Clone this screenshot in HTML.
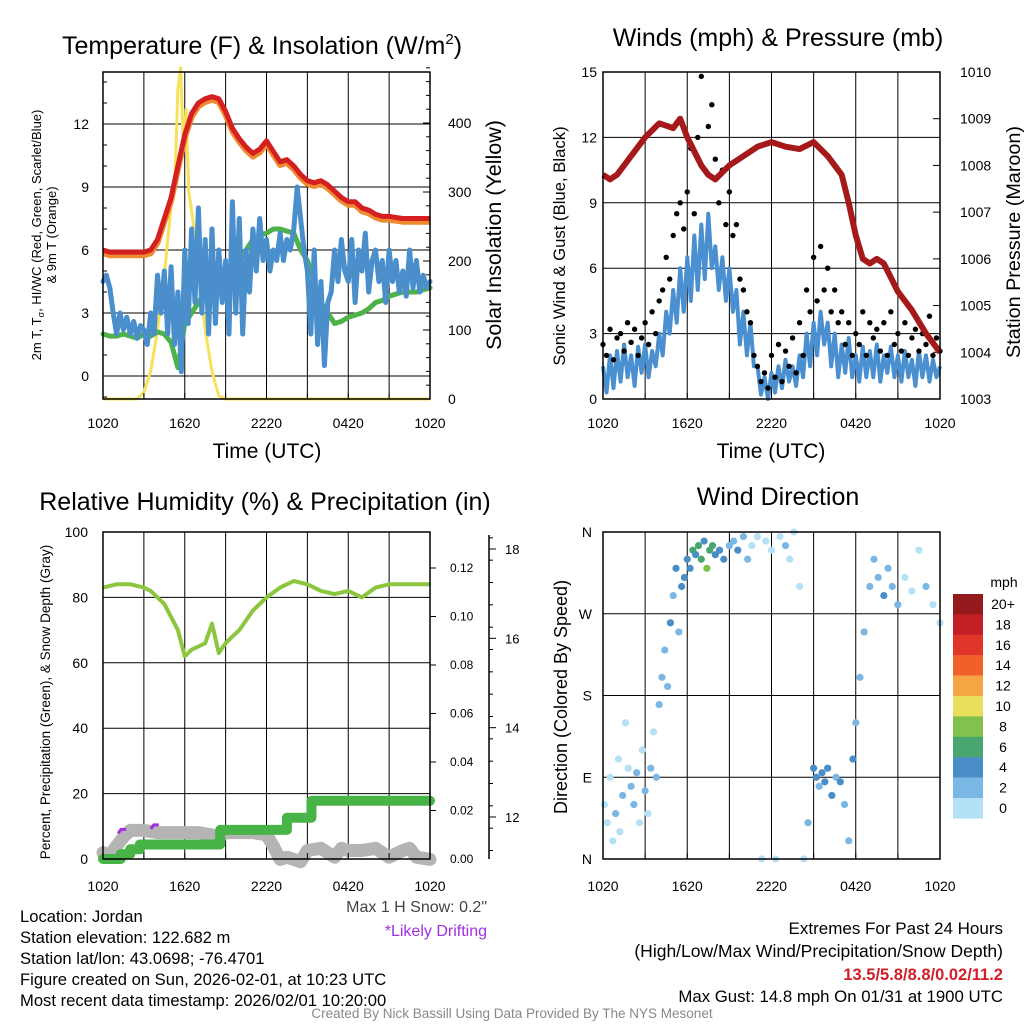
<!DOCTYPE html>
<html><head><meta charset="utf-8"><style>
body{margin:0;background:#fff;}
svg{display:block;font-family:"Liberation Sans",Arial,sans-serif;}
</style></head><body>
<svg id="chart" width="1024" height="1024" viewBox="0 0 1024 1024"></svg>
<script>
// ---------- DATA ----------
// Panel 1 (every 0.5 h)
const tempRed=[6.0,5.9,5.9,5.9,5.9,5.9,5.9,6.0,6.5,7.5,8.5,10.0,11.5,12.5,13.0,13.2,13.3,13.2,12.6,11.8,11.3,10.9,10.6,10.8,11.2,10.7,10.2,10.3,10.0,9.6,9.3,9.2,9.3,9.1,8.8,8.5,8.3,8.3,8.0,7.9,7.7,7.6,7.6,7.55,7.5,7.5,7.5,7.5,7.5];
const dewGreen=[2.0,1.9,1.9,2.0,1.9,1.8,2.0,1.9,2.1,2.0,1.6,0.4,2.5,3.0,3.5,4.0,4.5,4.8,5.0,5.2,5.5,6.0,6.5,6.7,6.8,7.0,7.0,6.9,6.8,6.0,5.5,4.5,3.5,3.0,2.5,2.6,2.8,2.9,3.0,3.2,3.5,3.6,3.8,3.9,4.0,4.0,4.0,4.1,4.2];
const windChill=[4.5,4.8,4.2,3.0,2.0,3.0,2.2,2.8,2.0,2.6,1.8,2.4,2.2,1.5,3.0,2.0,4.8,3.0,5.0,2.0,5.2,1.5,4.0,0.2,6.0,2.5,7.0,3.5,8.0,3.0,6.5,2.0,7.0,2.5,6.0,3.5,5.5,2.0,8.3,3.0,7.5,2.0,6.0,4.0,7.0,5.0,7.5,5.5,6.5,5.0,6.0,5.5,6.8,5.5,6.5,6.0,7.0,9.0,7.5,6.0,5.0,2.0,6.0,1.5,4.5,0.5,3.5,4.0,6.0,4.5,6.5,5.0,4.5,6.5,3.5,6.0,5.0,6.8,4.0,5.5,6.0,4.5,5.5,3.5,6.0,4.5,5.5,4.0,5.0,3.8,6.0,4.2,5.5,4.0,4.8,4.2,4.5];
const insolTimes=[0,2.5,3.0,3.5,4.0,4.5,5.0,5.3,5.5,5.7,5.9,6.1,6.3,6.6,7.0,7.5,8.0,8.5,9.0,24];
const insolVals=[0,0,10,40,100,180,280,330,450,480,360,420,300,260,180,100,40,5,0,0];
// Panel 2 (every 0.25 h)
const sonicWind=[1.5,0.3,2.0,0.5,2.2,0.8,2.5,1.0,2.0,0.6,2.4,1.2,2.5,1.0,2.2,1.5,3.0,2.0,4.0,3.0,5.0,3.5,6.0,4.0,6.5,4.5,7.5,5.0,8.0,5.5,8.5,6.0,7.0,5.0,6.5,4.5,6.0,4.0,5.0,2.5,4.0,2.0,3.5,1.5,1.5,0.2,1.0,0.0,1.2,0.3,1.5,0.5,1.8,0.8,1.5,0.6,2.0,1.0,3.0,1.5,3.5,2.0,4.0,2.5,3.5,1.5,3.0,1.0,2.5,1.2,2.8,1.0,2.0,0.8,2.4,1.0,2.2,1.0,2.5,0.8,2.0,1.2,2.4,1.0,2.0,0.8,2.2,1.0,1.8,0.6,2.2,1.0,2.0,0.8,1.8,1.0,1.5];
const gusts=[2.5,2.0,3.2,1.8,2.8,3.0,2.2,3.5,2.6,3.2,2.0,2.8,3.5,2.5,4.0,3.0,4.5,5.0,6.5,5.5,7.5,8.5,9.0,7.8,9.5,11.5,8.5,12.0,14.8,10.5,12.5,13.5,11.0,9.0,10.5,8.0,9.5,7.5,8.0,5.5,5.0,4.0,3.5,2.0,1.5,0.8,1.2,0.5,2.0,1.0,2.5,0.8,2.2,1.5,2.8,1.2,3.5,2.0,5.0,4.0,6.5,4.5,7.0,5.0,6.0,4.0,5.0,3.5,4.0,2.5,3.5,2.0,3.0,2.5,4.0,2.0,3.5,2.8,3.2,2.2,3.5,2.0,4.0,2.5,3.0,2.2,3.5,2.0,2.8,3.2,2.2,3.0,2.5,3.8,2.0,2.8,2.2];
const pressTimes=[0,0.5,1,2,3,4,4.5,5,5.5,6,6.5,7,7.5,8,9,10,11,12,13,14,15,16,17,17.5,18,18.5,19,19.5,20,21,22,23,24];
const pressVals=[1007.8,1007.7,1007.8,1008.2,1008.6,1008.9,1008.85,1008.8,1009.0,1008.6,1008.3,1008.0,1007.8,1007.7,1008.0,1008.2,1008.4,1008.5,1008.4,1008.35,1008.5,1008.2,1007.8,1007.2,1006.5,1006.0,1005.9,1006.0,1005.9,1005.3,1004.9,1004.4,1004.0];
// Panel 3
const rhTimes=[0,1,2,3,3.5,4.5,5.5,6,6.5,7,7.5,8,8.5,9,9.5,10,11,12,13,14,15,16,17,18,19,20,21,22,23,24];
const rhVals=[83,84,84,83,82,78,70,62,64,65,66,72,63,66,68,70,76,80,83,85,84,82,81,82,80,83,84,84,84,84];
const precipTimes=[0,1.3,2.0,2.7,8.6,13.5,15.3,24];
const precipVals=[0,0.002,0.004,0.006,0.012,0.017,0.024,0.024];
const snowTimes=[0,0.5,1,1.5,2,3,4,5,6,7,8,8.5,9,10,11,12,12.5,13,13.5,14.5,15,16,17,17.5,18,19,20,21,22,22.5,23,24];
const snowVals=[11.2,11.15,11.35,11.55,11.7,11.7,11.65,11.65,11.65,11.65,11.6,11.55,11.65,11.65,11.65,11.6,11.35,11.05,11.1,11.0,11.25,11.3,11.1,11.3,11.25,11.25,11.3,11.1,11.25,11.3,11.1,11.05];
const driftTimes=[1.4,3.8];
const driftVals=[11.7,11.8];
// Panel 4
const dirTimes=[0.1,0.3,0.5,0.7,0.9,1.1,1.2,1.4,1.6,1.8,2.0,2.2,2.4,2.6,2.8,3.0,3.2,3.4,3.6,3.8,4.0,4.2,4.4,4.6,4.8,5.0,5.2,5.4,5.6,5.8,6.0,6.2,6.4,6.6,6.8,7.0,7.2,7.4,7.6,7.8,8.0,8.3,8.6,9.0,9.3,9.6,10.0,10.3,10.6,11.0,11.3,11.6,12.0,12.3,12.6,13.0,13.3,13.6,14.0,14.3,14.6,15.0,15.2,15.4,15.6,15.8,16.0,16.3,16.6,16.9,17.2,17.5,17.8,18.0,18.3,18.6,19.0,19.3,19.6,20.0,20.3,20.6,21.0,21.5,22.0,22.5,23.0,23.5,24.0];
const dirVals=[60,40,90,20,50,110,30,70,150,100,80,60,95,40,120,75,50,100,140,90,170,200,230,190,260,290,320,250,300,310,330,320,340,335,345,330,350,320,340,345,335,340,330,345,350,340,355,330,345,355,0,350,340,0,355,345,330,360,300,0,40,100,90,80,95,85,100,70,90,85,60,20,110,150,200,250,300,330,310,290,320,300,280,310,295,340,300,280,260];
const dirSpeeds=[1,1,1,0,2,1,1,2,0,1,2,2,2,1,1,2,1,2,1,2,3,3,3,3,4,3,4,2,5,4,5,4,6,5,7,6,5,8,7,6,5,4,4,3,3,4,2,2,1,1,1,1,1,1,1,2,1,1,1,1,2,4,4,3,4,5,4,4,3,4,2,2,5,3,2,3,3,2,3,4,2,3,2,1,1,1,2,1,1];
const cbLabels=["20+","18","16","14","12","10","8","6","4","2","0"];
const cbColors=["#951a1d","#c31f26","#e0352a","#f0612a","#f6a545","#e8e05a","#80c24c","#48a66e","#4a8ec8","#7bb7e4","#b5e1f6"];

// ---------- HELPERS ----------
const NS="http://www.w3.org/2000/svg";
const svg=document.getElementById('chart');
function mk(tag,attrs,parent){const e=document.createElementNS(NS,tag);for(const k in attrs)e.setAttribute(k,attrs[k]);(parent||svg).appendChild(e);return e;}
function txt(s,x,y,size,anchor,parent,extra){const e=mk('text',Object.assign({x:x,y:y,'font-size':size,'text-anchor':anchor||'middle',fill:'#000'},extra||{}),parent);e.textContent=s;return e;}
function lin(d0,d1,r0,r1){return v=>r0+(v-d0)/(d1-d0)*(r1-r0);}
function pathFrom(xs,ys){return xs.map((x,i)=>(i?'L':'M')+x.toFixed(1)+','+ys[i].toFixed(1)).join('');}
function evenT(n){const a=[];for(let i=0;i<n;i++)a.push(i*24/(n-1));return a;}
const xLabels=["1020","1620","2220","0420","1020"];

function frame(g,x0,x1,y0,y1){
  for(let k=1;k<8;k++){const x=x0+(x1-x0)*k/8;const l=mk('line',{x1:x,x2:x,y1:y0,y2:y1,stroke:'#000','stroke-width':1},g);
    }
}
function border(g,x0,x1,y0,y1){const r=mk('rect',{x:x0,y:y0,width:x1-x0,height:y1-y0,fill:'none',stroke:'#000','stroke-width':1.5},g);
  }
function xAxis(g,x0,x1,y1,ly){
  xLabels.forEach((s,i)=>{const t=txt(s,x0+(x1-x0)*i/4,ly,14,'middle',g);
    });
  for(let k=0;k<=8;k++){const x=x0+(x1-x0)*k/8;mk('line',{x1:x,x2:x,y1:y1,y2:y1-6,stroke:'#000'},g);}
}

// ---------- PANEL 1 ----------
(function(){
const g=mk('g',{});
const X0=103,X1=430,Y0=72,Y1=399;
const xs=lin(0,24,X0,X1), yL=lin(0,12,376,124), yR=lin(0,400,399,123);
frame(g,X0,X1,Y0,Y1);
[0,3,6,9,12].forEach(v=>{const y=yL(v);mk('line',{x1:X0,x2:X1,y1:y,y2:y,stroke:'#000'},g);
  const t=txt(String(v),89,y+5,14,'end',g);});
for(let v=-1;v<=14;v++){mk('line',{x1:X0,x2:X0+(v%3==0?0:4),y1:yL(v),y2:yL(v),stroke:'#000'},g);}
for(let v=0;v<=480;v+=20){const y=yR(v);mk('line',{x1:X1,x2:X1-(v%100==0?7:4),y1:y,y2:y,stroke:'#000'},g);}
[0,100,200,300,400].forEach(v=>{const t=txt(String(v),448,yR(v)+5,14,'start',g);});
const tr=evenT(tempRed.length), tw=evenT(windChill.length);
const ins=mk('path',{d:pathFrom(insolTimes.map(xs),insolVals.map(yR)),fill:'none',stroke:'#f7e15a','stroke-width':3,'stroke-linejoin':'round'},g);

const gr=mk('path',{d:pathFrom(tr.map(xs),dewGreen.map(yL)),fill:'none',stroke:'#4db24a','stroke-width':5,'stroke-linejoin':'round','stroke-linecap':'round'},g);

const bl=mk('path',{d:pathFrom(tw.map(xs),windChill.map(yL)),fill:'none',stroke:'#4a8fcb','stroke-width':5,'stroke-linejoin':'round','stroke-linecap':'round'},g);

const or=mk('path',{d:pathFrom(tr.map(xs),tempRed.map(v=>yL(v-0.15))),fill:'none',stroke:'#f08a30','stroke-width':6,'stroke-linejoin':'round'},g);

const rd=mk('path',{d:pathFrom(tr.map(xs),tempRed.map(yL)),fill:'none',stroke:'#d42020','stroke-width':5,'stroke-linejoin':'round'},g);

border(g,X0,X1,Y0,Y1);
xAxis(g,X0,X1,Y1,428);
const t1=txt('Temperature (F) & Insolation (W/m',262,54,25,'middle',g);
const sup=mk('tspan',{'font-size':15,dy:-10},t1);sup.textContent='2';
const cl=mk('tspan',{dy:10},t1);cl.textContent=')';
const xt=txt('Time (UTC)',267,458,21,'middle',g);
const yt=txt('2m T, T',0,0,13,'middle',g,{transform:'translate(41,235) rotate(-90)'});
const sb=mk('tspan',{'font-size':9,dy:3},yt);sb.textContent='σ';const rest=mk('tspan',{dy:-3},yt);rest.textContent=', HI/WC (Red, Green, Scarlet/Blue)';
const yt2=txt('& 9m T (Orange)',0,0,13,'middle',g,{transform:'translate(56,235) rotate(-90)'});
const rt=txt('Solar Insolation (Yellow)',0,0,21.5,'middle',g,{transform:'translate(501,235) rotate(-90)'});
})();

// ---------- PANEL 2 ----------
(function(){
const g=mk('g',{});
const X0=603,X1=940,Y0=72,Y1=399;
const xs=lin(0,24,X0,X1), yL=lin(0,15,Y1,Y0), yR=lin(1003,1010,Y1,Y0);
frame(g,X0,X1,Y0,Y1);
[0,3,6,9,12,15].forEach(v=>{const y=yL(v);mk('line',{x1:X0,x2:X1,y1:y,y2:y,stroke:'#000'},g);
  const t=txt(String(v),597,y+5,14,'end',g);});
for(let v=1003;v<=1010;v++){const y=yR(v);mk('line',{x1:X1,x2:X1-7,y1:y,y2:y,stroke:'#000'},g);
  const t=txt(String(v),960,y+5,14,'start',g);}
const tw=evenT(sonicWind.length), tg=evenT(gusts.length);
const bl=mk('path',{d:pathFrom(tw.map(xs),sonicWind.map(yL)),fill:'none',stroke:'#4a90d0','stroke-width':4,'stroke-linejoin':'round'},g);

gusts.forEach((v,i)=>{const c=mk('circle',{cx:xs(tg[i]),cy:yL(v),r:2.7,fill:'#000'},g);
  });
const pr=mk('path',{d:pathFrom(pressTimes.map(xs),pressVals.map(yR)),fill:'none',stroke:'#a5191b','stroke-width':6,'stroke-linejoin':'round'},g);

border(g,X0,X1,Y0,Y1);
xAxis(g,X0,X1,Y1,428);
const t=txt('Winds (mph) & Pressure (mb)',778,46,25,'middle',g);
const xt=txt('Time (UTC)',771,458,21,'middle',g);
const yt=txt('Sonic Wind & Gust (Blue, Black)',0,0,16.7,'middle',g,{transform:'translate(565,246) rotate(-90)'});
const rt=txt('Station Pressure (Maroon)',0,0,19.8,'middle',g,{transform:'translate(1020,242) rotate(-90)'});
})();

// ---------- PANEL 3 ----------
(function(){
const g=mk('g',{});
const X0=103,X1=430,Y0=532,Y1=859;
const xs=lin(0,24,X0,X1), yL=lin(0,100,Y1,Y0), yP=lin(0,0.12,Y1,568), yS=lin(12,18,817,549);
frame(g,X0,X1,Y0,Y1);
[0,20,40,60,80,100].forEach(v=>{const y=yL(v);mk('line',{x1:X0,x2:X1,y1:y,y2:y,stroke:'#000'},g);
  const t=txt(String(v),88,y+5,14,'end',g);});
[0,0.02,0.04,0.06,0.08,0.1,0.12].forEach(v=>{const y=yP(v);mk('line',{x1:X1,x2:X1+6,y1:y,y2:y,stroke:'#000'},g);
  const t=txt(v.toFixed(2),450,y+4,12,'start',g);});
const sa=mk('line',{x1:489,x2:489,y1:535,y2:Y1,stroke:'#000','stroke-width':1.5},g);
for(let v=11.25;v<=18.5;v+=0.5){const y=yS(v);if(y<535)continue;mk('line',{x1:489,x2:489+(Number.isInteger(v/2)?7:4),y1:y,y2:y,stroke:'#000'},g);}
[12,14,16,18].forEach(v=>{const y=yS(v);mk('line',{x1:489,x2:496,y1:y,y2:y,stroke:'#000'},g);
  const t=txt(String(v),505,y+5,13,'start',g);});
const sn=mk('path',{d:pathFrom(snowTimes.map(xs),snowVals.map(yS)),fill:'none',stroke:'#b4b4b4','stroke-width':13,'stroke-linejoin':'round','stroke-linecap':'round'},g);

let d='';precipTimes.forEach((t,i)=>{const x=xs(t),y=yP(precipVals[i]);if(i==0)d='M'+x+','+y;else{d+='L'+x+','+yP(precipVals[i-1])+'L'+x+','+y;}});
const pp=mk('path',{d:d,fill:'none',stroke:'#48b347','stroke-width':10,'stroke-linejoin':'round','stroke-linecap':'round'},g);

driftTimes.forEach((t,i)=>{const c=mk('path',{d:'M'+(xs(t)-4)+','+(yS(driftVals[i])+3)+'l3,-4l5,0',fill:'none',stroke:'#a030e0','stroke-width':3},g);
  });
const rh=mk('path',{d:pathFrom(rhTimes.map(xs),rhVals.map(yL)),fill:'none',stroke:'#8cc63f','stroke-width':4,'stroke-linejoin':'round'},g);

border(g,X0,X1,Y0,Y1);
xAxis(g,X0,X1,Y1,891);
const t=txt('Relative Humidity (%) & Precipitation (in)',265,510,25,'middle',g);
const yt=txt('Percent, Precipitation (Green), & Snow Depth (Gray)',0,0,13.5,'middle',g,{transform:'translate(50,702) rotate(-90)'});
const ms=txt('Max 1 H Snow: 0.2"',487,912,16,'end',g,{fill:'#444'});
const ld=txt('*Likely Drifting',487,936,16,'end',g,{fill:'#a030e0'});
})();

// ---------- PANEL 4 ----------
(function(){
const g=mk('g',{});
const X0=603,X1=940,Y0=532,Y1=859;
const xs=lin(0,24,X0,X1), yD=lin(0,360,Y1,Y0);
frame(g,X0,X1,Y0,Y1);
[["N",0],["E",90],["S",180],["W",270],["N",360]].forEach(([s,v])=>{const y=yD(v);mk('line',{x1:X0,x2:X1,y1:y,y2:y,stroke:'#000'},g);
  const t=txt(s,592,y+5,14,'end',g);});
function col(s){const idx=Math.min(10,Math.floor(s/2));return cbColors[10-idx];}
dirVals.forEach((v,i)=>{const c=mk('circle',{cx:xs(dirTimes[i]),cy:yD(v),r:3.6,fill:col(dirSpeeds[i])},g);
  });
border(g,X0,X1,Y0,Y1);
xAxis(g,X0,X1,Y1,891);
const t=txt('Wind Direction',778,505,25,'middle',g);
const yt=txt('Direction (Colored By Speed)',0,0,18,'middle',g,{transform:'translate(567,697) rotate(-90)'});
const cb=mk('g',{},g);
const u=txt('mph',1004,587,14,'middle',cb);
cbColors.forEach((c,i)=>{const r=mk('rect',{x:953,y:594+i*20.4,width:30,height:20.6,fill:c},cb);
  
  const l=txt(cbLabels[i],1003,609+i*20.4,14,'middle',cb);});
})();

// ---------- FOOTER TEXT ----------
["Location: Jordan","Station elevation: 122.682 m","Station lat/lon: 43.0698; -76.4701","Figure created on Sun, 2026-02-01, at 10:23 UTC","Most recent data timestamp: 2026/02/01 10:20:00"].forEach((s,i)=>{
  const t=txt(s,20,922+i*21,16.6,'start');});
const e1=txt('Extremes For Past 24 Hours',1003,934,17,'end');
const e2=txt('(High/Low/Max Wind/Precipitation/Snow Depth)',1003,957,17.5,'end');
const e3=txt('13.5/5.8/8.8/0.02/11.2',1003,980,16.5,'end',null,{fill:'#d0202a','font-weight':'bold'});
const e4=txt('Max Gust: 14.8 mph On 01/31 at 1900 UTC',1003,1002,16.8,'end');
const cr=txt('Created By Nick Bassill Using Data Provided By The NYS Mesonet',512,1018,13.5,'middle',null,{fill:'#888'});
</script>
</body></html>
